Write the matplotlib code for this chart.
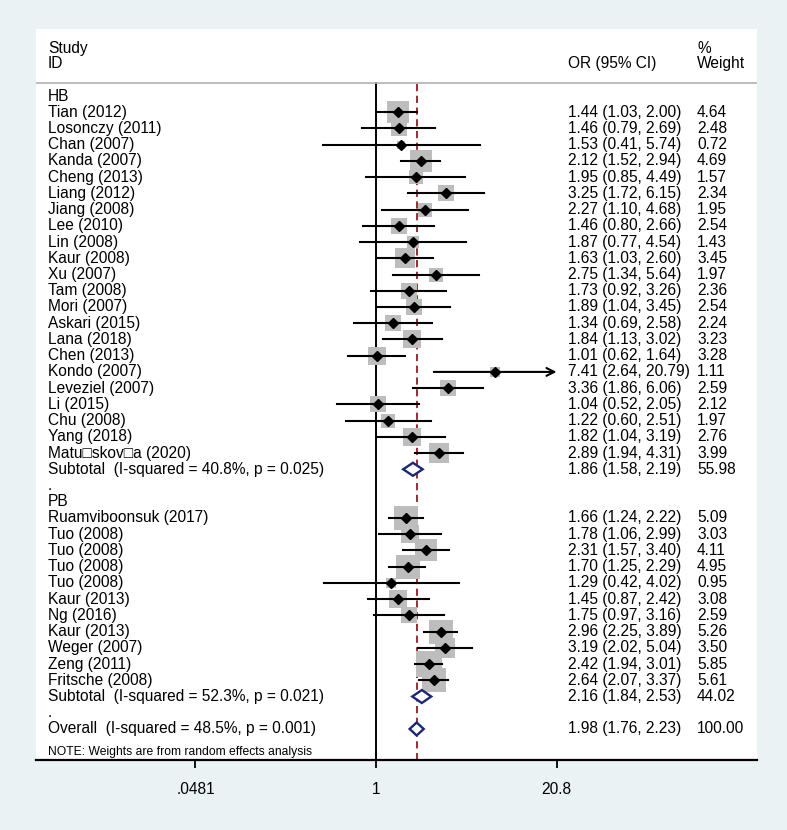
import matplotlib
matplotlib.use('Agg')
import matplotlib.pyplot as plt
import matplotlib.ticker as mticker
import matplotlib.transforms as mtransforms
import numpy as np

plt.rcParams['font.family'] = ['Liberation Sans', 'DejaVu Sans']

# HB studies
hb_names = ['Tian (2012)', 'Losonczy (2011)', 'Chan (2007)', 'Kanda (2007)', 'Cheng (2013)',
            'Liang (2012)', 'Jiang (2008)', 'Lee (2010)', 'Lin (2008)', 'Kaur (2008)',
            'Xu (2007)', 'Tam (2008)', 'Mori (2007)', 'Askari (2015)', 'Lana (2018)',
            'Chen (2013)', 'Kondo (2007)', 'Leveziel (2007)', 'Li (2015)', 'Chu (2008)',
            'Yang (2018)', 'Matu\u25a1skov\u25a1a (2020)']
hb_or = [1.44, 1.46, 1.53, 2.12, 1.95, 3.25, 2.27, 1.46, 1.87, 1.63, 2.75,
         1.73, 1.89, 1.34, 1.84, 1.01, 7.41, 3.36, 1.04, 1.22, 1.82, 2.89]
hb_lo = [1.03, 0.79, 0.41, 1.52, 0.85, 1.72, 1.10, 0.80, 0.77, 1.03, 1.34,
         0.92, 1.04, 0.69, 1.13, 0.62, 2.64, 1.86, 0.52, 0.60, 1.04, 1.94]
hb_hi = [2.00, 2.69, 5.74, 2.94, 4.49, 6.15, 4.68, 2.66, 4.54, 2.60, 5.64,
         3.26, 3.45, 2.58, 3.02, 1.64, 20.79, 6.06, 2.05, 2.51, 3.19, 4.31]
hb_wt = [4.64, 2.48, 0.72, 4.69, 1.57, 2.34, 1.95, 2.54, 1.43, 3.45, 1.97,
         2.36, 2.54, 2.24, 3.23, 3.28, 1.11, 2.59, 2.12, 1.97, 2.76, 3.99]

# PB studies
pb_names = ['Ruamviboonsuk (2017)', 'Tuo (2008)', 'Tuo (2008)', 'Tuo (2008)', 'Tuo (2008)',
            'Kaur (2013)', 'Ng (2016)', 'Kaur (2013)', 'Weger (2007)', 'Zeng (2011)',
            'Fritsche (2008)']
pb_or = [1.66, 1.78, 2.31, 1.70, 1.29, 1.45, 1.75, 2.96, 3.19, 2.42, 2.64]
pb_lo = [1.24, 1.06, 1.57, 1.25, 0.42, 0.87, 0.97, 2.25, 2.02, 1.94, 2.07]
pb_hi = [2.22, 2.99, 3.40, 2.29, 4.02, 2.42, 3.16, 3.89, 5.04, 3.01, 3.37]
pb_wt = [5.09, 3.03, 4.11, 4.95, 0.95, 3.08, 2.59, 5.26, 3.50, 5.85, 5.61]

# pooled estimates: HB subtotal, PB subtotal, overall
pool_labels = ['Subtotal  (I-squared = 40.8%, p = 0.025)',
               'Subtotal  (I-squared = 52.3%, p = 0.021)',
               'Overall  (I-squared = 48.5%, p = 0.001)']
pool_or = [1.86, 2.16, 1.98]
pool_lo = [1.58, 1.84, 1.76]
pool_hi = [2.19, 2.53, 2.23]
pool_wt = [55.98, 44.02, 100.00]

tick_vals = [0.0481, 1, 20.8]
tick_labels = ['.0481', '1', '20.8']

# build row list
rows = [('group', 'HB')]
rows += [('study', n, o, l, h, w) for n, o, l, h, w in zip(hb_names, hb_or, hb_lo, hb_hi, hb_wt)]
rows += [('pool', pool_labels[0], pool_or[0], pool_lo[0], pool_hi[0], pool_wt[0]), ('gap', '.')]
rows += [('group', 'PB')]
rows += [('study', n, o, l, h, w) for n, o, l, h, w in zip(pb_names, pb_or, pb_lo, pb_hi, pb_wt)]
rows += [('pool', pool_labels[1], pool_or[1], pool_lo[1], pool_hi[1], pool_wt[1]), ('gap', '.')]
rows += [('pool', pool_labels[2], pool_or[2], pool_lo[2], pool_hi[2], pool_wt[2])]

BG = '#EAF2F3'
NAVY = '#1b2677'
MAROON = '#8e1f24'
BOX = '#BDBDBD'

W, H = 787, 830
L, R, T, B = 36, 757, 29, 760
ROW0, STEP = 96, 16.23
PX_PER_LN = 59.5
X_ONE = 376

fig = plt.figure(figsize=(W / 100, H / 100), dpi=100, facecolor=BG)
ax = fig.add_axes([L / W, (H - B) / H, (R - L) / W, (B - T) / H])
ax.set_facecolor('white')


def ry(px):
    return (px - ROW0) / STEP


def fx(px):
    return (px - L) / (R - L)


ax.set_xscale('log')
ax.set_xlim(np.exp((L - X_ONE) / PX_PER_LN), np.exp((R - X_ONE) / PX_PER_LN))
ax.set_ylim(ry(B), ry(T))

trans = mtransforms.blended_transform_factory(ax.transAxes, ax.transData)
fs = 11.2

# header
ax.text(fx(48), ry(48), 'Study', transform=trans, fontsize=fs, va='center')
ax.text(fx(48), ry(63), 'ID', transform=trans, fontsize=fs, va='center')
ax.text(fx(568), ry(63), 'OR (95% CI)', transform=trans, fontsize=fs, va='center')
ax.text(fx(697), ry(48), '%', transform=trans, fontsize=fs, va='center')
ax.text(fx(697), ry(63), 'Weight', transform=trans, fontsize=fs, va='center')
ax.axhline(ry(83), color='#b0b0b0', lw=1.2)

# reference lines
ax.plot([1, 1], [ry(83), ry(B)], color='black', lw=1.4, zorder=1)
ax.plot([pool_or[2]] * 2, [ry(84), ry(B)], color=MAROON, lw=1.3,
        dashes=(4, 2.5), zorder=1)

for i, r in enumerate(rows):
    y = i
    kind = r[0]
    ax.text(fx(48), y, r[1], transform=trans, fontsize=fs, va='center')
    if kind in ('group', 'gap'):
        continue
    _, name, est, lo, hi, wt = r
    ax.text(fx(568), y, f'{est:.2f} ({lo:.2f}, {hi:.2f})', transform=trans,
            fontsize=fs, va='center')
    ax.text(fx(697), y, f'{wt:.2f}', transform=trans, fontsize=fs, va='center')
    if kind == 'study':
        side = 10.4 * np.sqrt(wt) * 0.72
        ax.scatter([est], [y], marker='s', s=side ** 2, color=BOX,
                   linewidths=0, zorder=2)
        if hi >= tick_vals[-1] * 0.995:
            ax.annotate('', xy=(hi, y), xytext=(lo, y),
                        arrowprops=dict(arrowstyle='->', lw=1.5, color='black',
                                        shrinkA=0, shrinkB=0, mutation_scale=14),
                        zorder=3)
        else:
            ax.plot([lo, hi], [y, y], color='black', lw=1.5, zorder=3)
        ax.plot([est], [y], marker='D', ms=5, color='black', zorder=4)
    else:
        h = 6.5 / STEP
        ax.fill([lo, est, hi, est], [y, y - h, y, y + h], facecolor='white',
                edgecolor=NAVY, lw=1.7, zorder=3)

ax.text(fx(48), ry(752), 'NOTE: Weights are from random effects analysis',
        transform=trans, fontsize=8.7, va='center')

for s in ['top', 'left', 'right']:
    ax.spines[s].set_visible(False)
ax.spines['bottom'].set_linewidth(1.6)
ax.set_yticks([])
ax.set_xticks(tick_vals)
ax.set_xticklabels(tick_labels, fontsize=fs)
ax.xaxis.set_minor_locator(mticker.NullLocator())
ax.tick_params(axis='x', direction='out', length=5.5, width=1.3, pad=10)

fig.savefig('out.png', dpi=100, facecolor=BG)
